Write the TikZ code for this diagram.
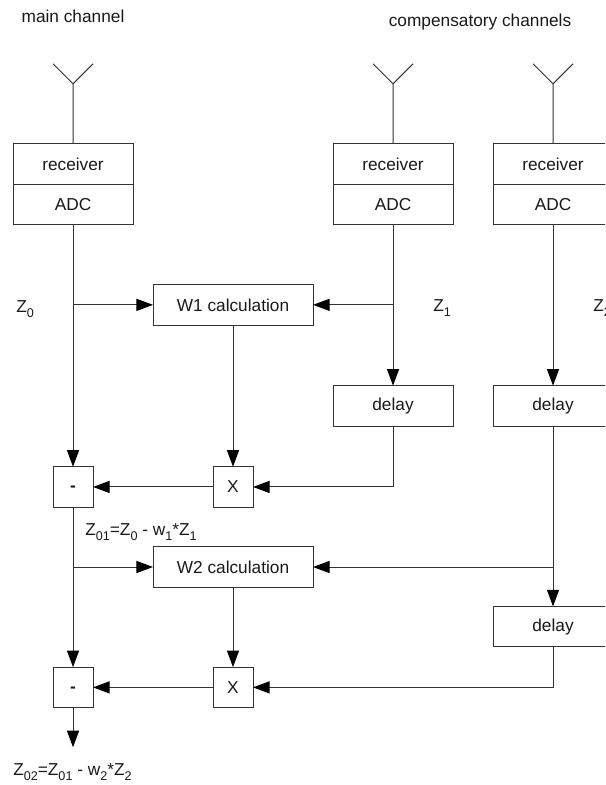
\documentclass[tikz,border=0pt]{standalone}
\usepackage{fontspec}
\setmainfont{Liberation Sans}
\usetikzlibrary{arrows.meta,positioning,calc}
\newcommand{\lowidx}[1]{\raisebox{-4.2pt}{\fontsize{9.5}{10}\selectfont #1}}
\newcommand{\subsign}{\raisebox{-3.6pt}[0pt][0pt]{\textbf{-}}}
\definecolor{cLine}{RGB}{50,50,50}
\tikzset{
    block/.style={rectangle, draw=cLine, line width=0.75pt, outer sep=0pt, inner sep=0pt,
        minimum width=3.175cm, minimum height=1.07cm, align=center},
    calcbox/.style={block, minimum width=4.233cm},
    opbox/.style={block, minimum width=1.058cm},
    lbl/.style={inner sep=0pt, anchor=base west},
    wire/.style={line width=0.75pt, draw=cLine},
    arr/.style={wire, -{Triangle[length=4.4mm,width=3.2mm,color=black]}},
    every node/.append style={font=\fontsize{13}{15}\selectfont, text=black!90},
}
\begin{document}
\begin{tikzpicture}
\useasboundingbox (-1.932,4.339) rectangle (14.076,-16.431);
\clip (-1.932,4.339) rectangle (14.076,-16.431);

% receiver and ADC per channel
\node[block] (rcv0) {receiver};
\node[block, below=0cm of rcv0] (adc0) {ADC};
\node[block, right=5.292cm of rcv0] (rcv1) {receiver};
\node[block, below=0cm of rcv1] (adc1) {ADC};
\node[block, right=1.058cm of rcv1] (rcv2) {receiver};
\node[block, below=0cm of rcv2] (adc2) {ADC};

% antennas
\foreach \ch in {0,1,2} {
    \coordinate[above=1.587cm of rcv\ch] (tip\ch);
    \draw[wire] (rcv\ch.north) -- (tip\ch) -- ++(-0.529,0.529) (tip\ch) -- ++(0.529,0.529);
}

% first stage
\node[calcbox, below=1.587cm of adc0, xshift=4.233cm] (w1) {W1 calculation};
\node[block, below=4.260cm of adc1] (dly1) {delay};
\node[block, below=4.260cm of adc2] (dly2) {delay};
\node[opbox, below=6.405cm of adc0] (sub1) {\subsign};
\node[opbox, right=3.175cm of sub1] (mul1) {X};

% second stage
\node[calcbox, below=1.048cm of mul1] (w2) {W2 calculation};
\node[block, below=4.770cm of dly2] (dly3) {delay};
\node[opbox, below=4.233cm of sub1] (sub2) {\subsign};
\node[opbox, below=4.233cm of mul1] (mul2) {X};
\coordinate[below=1.050cm of sub2] (out);

% connectors
\draw[arr] (adc0) -- (sub1);
\draw[arr] (adc0 |- w1.west) -- (w1.west);
\draw[arr] (adc1) -- (dly1);
\draw[arr] (adc1 |- w1.east) -- (w1.east);
\draw[arr] (w1) -- (mul1);
\draw[arr] (dly1.south) |- (mul1.east);
\draw[arr] (mul1) -- (sub1);

\draw[arr] (adc2) -- (dly2);
\draw[arr] (dly2) -- (dly3);
\draw[arr] (dly2 |- w2.east) -- (w2.east);
\draw[arr] (sub1) -- (sub2);
\draw[arr] (sub1 |- w2.west) -- (w2.west);
\draw[arr] (w2) -- (mul2);
\draw[arr] (dly3.south) |- (mul2.east);
\draw[arr] (mul2) -- (sub2);
\draw[arr] (sub2) -- (out);

% labels
\node[lbl, anchor=base] (lmain) at (0,3.731) {main channel};
\node[lbl, anchor=base] (lcomp) at (10.769,3.625) {compensatory channels};
\node[lbl] (lz0) at (-1.508,-3.916) {Z\lowidx{0}};
\node[lbl] (lz1) at (9.526,-3.890) {Z\lowidx{1}};
\node[lbl] (lz2) at (13.759,-3.890) {Z\lowidx{2}};
\node[lbl] (lz01) at (0.318,-9.817) {Z\lowidx{01}=Z\lowidx{0} - w\lowidx{1}*Z\lowidx{1}};
\node[lbl] (lz02) at (-1.588,-16.167) {Z\lowidx{02}=Z\lowidx{01} - w\lowidx{2}*Z\lowidx{2}};
\end{tikzpicture}
\end{document}
